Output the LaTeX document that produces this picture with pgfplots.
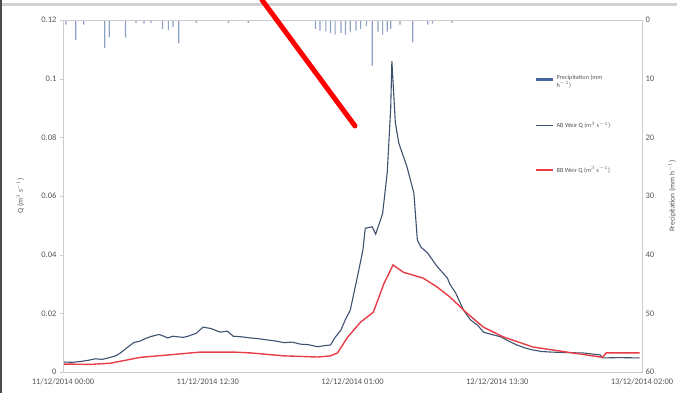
\documentclass[border=0pt]{standalone}
\usepackage{pgfplots}
\pgfplotsset{compat=1.18}
\usepackage{fontspec}
\setmainfont{Carlito}
\definecolor{qblue}{RGB}{62,82,112}
\definecolor{qred}{RGB}{232,60,70}
\definecolor{pbar}{RGB}{140,163,196}
\definecolor{pleg}{RGB}{70,100,160}
\definecolor{axgray}{RGB}{205,205,205}
\definecolor{labgray}{RGB}{85,85,85}
\begin{document}
\begin{tikzpicture}[x=1pt,y=1pt]
% precipitation axis (right, reversed)
\begin{axis}[
  scale only axis, width=579pt, height=352pt,
  xmin=0, xmax=50, ymin=0, ymax=60, y dir=reverse,
  axis x line=none, axis y line*=right,
  axis line style={axgray},
  ytick={0,10,20,30,40,50,60},
  yticklabels={0,10,20,30,40,50,60},
  ytick style={draw=none},
  yticklabel style={font=\fontsize{8.5}{10}\selectfont, text=labgray},
  ylabel={Precipitation (mm h$^{-1}$)},
  ylabel style={at={(axis description cs:1.052,0.5)}, anchor=center, rotate=0, font=\fontsize{7.5}{9}\selectfont, text=labgray},
]
\addplot[ybar, bar width=1.2pt, fill=pbar, draw=none] table {
x y
0.26 0.8
1.1 3.4
1.8 0.8
3.6 4.8
4.0 2.9
5.4 3.0
6.3 0.5
7.0 0.6
7.6 0.5
8.6 1.5
9.1 1.7
9.5 1.2
10.0 4.0
11.5 0.5
14.3 0.5
16.0 0.5
21.8 1.5
22.2 1.8
22.7 2.0
23.1 2.2
23.5 2.5
24.0 2.2
24.4 2.5
24.8 2.0
25.3 1.8
25.7 1.5
26.2 1.0
26.7 7.8
27.2 2.0
27.6 2.5
28.0 2.0
28.3 1.5
29.1 0.8
30.2 3.8
31.5 0.8
31.9 0.6
33.6 0.5
};
\end{axis}
% discharge axis (left)
\begin{axis}[
  scale only axis, width=579pt, height=352pt,
  xmin=0, xmax=50, ymin=0, ymax=0.12,
  axis line style={axgray},
  xtick={0,12.5,25,37.5,50},
  xticklabels={11/12/2014 00:00,11/12/2014 12:30,12/12/2014 01:00,12/12/2014 13:30,13/12/2014 02:00},
  ytick={0,0.02,0.04,0.06,0.08,0.1,0.12},
  yticklabels={0,0.02,0.04,0.06,0.08,0.1,0.12},
  xtick style={draw=none},
  ytick style={axgray},
  tick align=outside, ytick pos=left, xtick pos=bottom,
  major tick length=3pt,
  tick label style={font=\fontsize{8.5}{10}\selectfont, text=labgray},
  ylabel={Q (m$^3$ s$^{-1}$)},
  ylabel style={at={(axis description cs:-0.074,0.5)}, anchor=center, font=\fontsize{7.5}{9}\selectfont, text=labgray},
  legend style={at={(rel axis cs:0.81,0.855)}, anchor=north west, draw=none, fill=none,
    font=\fontsize{6.3}{7.3}\selectfont, text=labgray, row sep=35pt, column sep=1pt,
    nodes={inner sep=1pt}},
  legend cell align=left,
  legend image code/.code={\draw[#1] (0pt,0pt) -- (17pt,0pt);},
]
\addlegendimage{pleg, line width=2.4pt}
\addlegendentry{\begin{tabular}{@{}l@{}}Precipitation (mm\\h$^{-1}$)\end{tabular}}
\addplot[qblue, line width=1.1pt] table {
x y
0.1 0.0034
0.8 0.0033
1.55 0.0036
2.2 0.0040
2.8 0.0045
3.4 0.0043
4.1 0.0050
4.6 0.0056
5.0 0.0066
5.6 0.0085
6.1 0.0100
6.7 0.0106
7.1 0.0114
7.6 0.0121
8.3 0.0128
8.7 0.0122
9.05 0.0116
9.5 0.0122
9.9 0.0120
10.4 0.0118
10.8 0.0122
11.5 0.0132
12.1 0.0153
12.8 0.0148
13.3 0.0140
13.6 0.0136
14.2 0.0139
14.7 0.0122
15.4 0.0120
16.2 0.0116
17.0 0.0113
17.5 0.0110
18.3 0.0106
19.1 0.0100
19.8 0.0102
20.5 0.0095
21.2 0.0093
22.0 0.0086
22.6 0.0090
23.1 0.0092
23.5 0.0118
24.0 0.0143
24.4 0.0180
24.8 0.0210
25.4 0.0320
25.9 0.0416
26.1 0.0490
26.7 0.0495
27.0 0.0470
27.6 0.0540
28.0 0.0680
28.3 0.0900
28.4 0.1060
28.7 0.0850
29.0 0.0780
29.7 0.0700
30.3 0.0610
30.6 0.0450
30.9 0.0426
31.5 0.0405
32.3 0.0360
33.2 0.0320
33.4 0.0300
33.9 0.0270
34.6 0.0210
35.2 0.0177
35.8 0.0160
36.3 0.0136
37.0 0.0128
37.8 0.0120
38.5 0.0105
39.2 0.0092
39.9 0.0082
40.6 0.0075
41.3 0.0070
42.1 0.0068
43.5 0.0066
44.9 0.0065
46.4 0.0058
46.6 0.0048
48.0 0.0049
49.8 0.0048
};
\addlegendentry{AB Weir Q (m$^3$ s$^{-1}$)}
\addplot[qred, line width=1.4pt] table {
x y
0.1 0.0027
2.4 0.0026
4.1 0.0030
5.4 0.0040
6.7 0.0050
9.05 0.0058
11.9 0.0068
14.7 0.0068
16.2 0.0065
19.1 0.0055
22.0 0.0051
23.1 0.0055
23.7 0.0065
24.6 0.0120
25.7 0.0170
26.8 0.0204
27.7 0.0300
28.5 0.0365
29.4 0.0340
31.1 0.0320
32.3 0.0290
33.4 0.0256
34.9 0.0200
36.3 0.0153
38.0 0.0120
40.6 0.0085
43.5 0.0068
46.6 0.0050
46.9 0.0065
49.8 0.0065
};
\addlegendentry{BB Weir Q (m$^3$ s$^{-1}$)}
\end{axis}
% screenshot frame and annotation stroke
\fill[black!18] (-63,366) rectangle (614,369);
\fill[black!70] (-63,-21) rectangle (-60.5,372);
\draw[red, line width=5pt, line cap=round] (199,372) -- (292,246);
\pgfresetboundingbox
\path[use as bounding box] (-63,-21) rectangle (614,372);
\end{tikzpicture}
\end{document}
